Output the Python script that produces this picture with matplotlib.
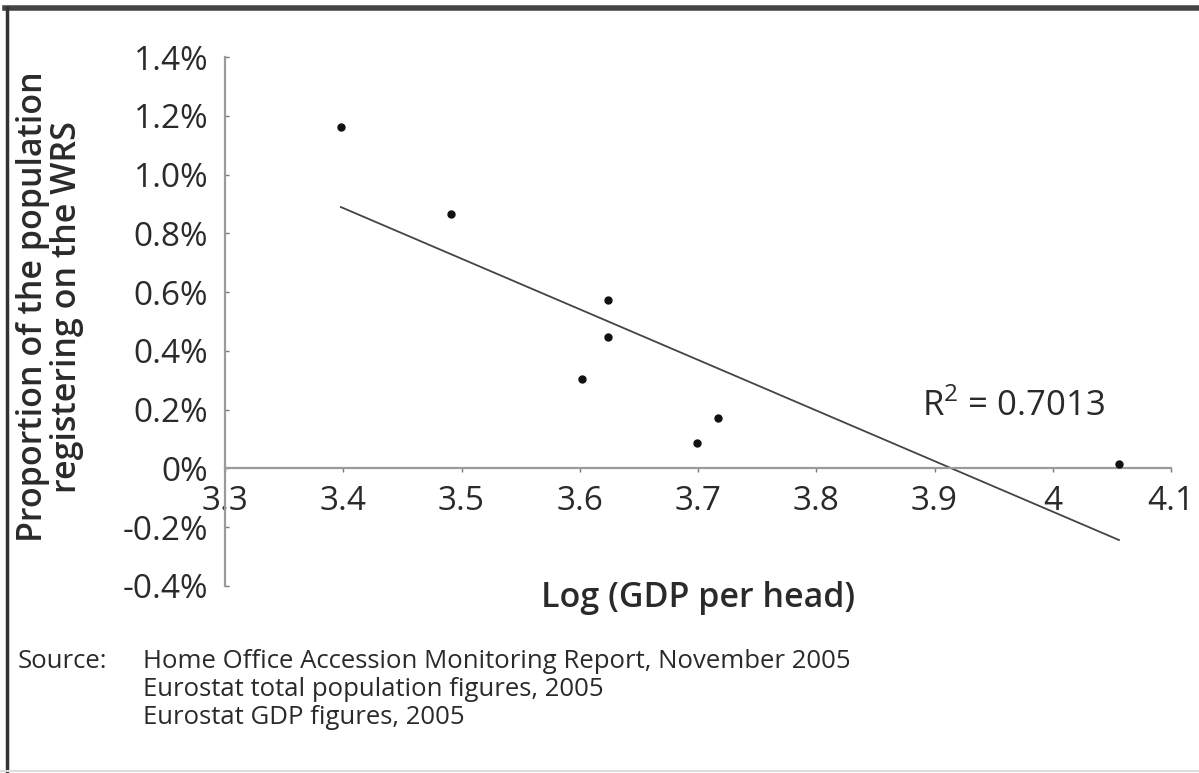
import matplotlib
matplotlib.use("Agg")
import matplotlib.pyplot as plt
import numpy as np
from matplotlib.lines import Line2D

# Data
log_gdp = [3.398, 3.491, 3.624, 3.624, 3.602, 3.717, 3.699, 4.056]
wrs_share = [1.162, 0.866, 0.572, 0.446, 0.306, 0.173, 0.085, 0.015]  # percent

x_ticks = [3.3, 3.4, 3.5, 3.6, 3.7, 3.8, 3.9, 4.0, 4.1]
x_tick_labels = ["3.3", "3.4", "3.5", "3.6", "3.7", "3.8", "3.9", "4", "4.1"]
y_ticks = [-0.4, -0.2, 0.0, 0.2, 0.4, 0.6, 0.8, 1.0, 1.2, 1.4]
y_tick_labels = ["-0.4%", "-0.2%", "0%", "0.2%", "0.4%", "0.6%", "0.8%", "1.0%", "1.2%", "1.4%"]
r2_text = "R$^{2}$ = 0.7013"
x_label = "Log (GDP per head)"
y_label = "Proportion of the population\nregistering on the WRS"
source_head = "Source:"
source_lines = ["Home Office Accession Monitoring Report, November 2005",
                "Eurostat total population figures, 2005",
                "Eurostat GDP figures, 2005"]

plt.rcParams['font.family'] = ['Open Sans', 'DejaVu Sans']
plt.rcParams['mathtext.fontset'] = 'custom'
plt.rcParams['mathtext.rm'] = 'Open Sans'

fig = plt.figure(figsize=(11.99, 7.73), dpi=100)
ax = fig.add_axes([225/1199, 1-586/773, (1171-225)/1199, (586-57)/773])

ax.set_xlim(3.3, 4.1)
ax.set_ylim(-0.4, 1.4)

# scatter points
ax.plot(log_gdp, wrs_share, linestyle='none', marker='o', ms=5, color='#111111', zorder=3)

# linear trend line
coef = np.polyfit(log_gdp, wrs_share, 1)
xs = np.array([min(log_gdp), max(log_gdp)])
ax.plot(xs, np.polyval(coef, xs), color='#444444', lw=1.3, zorder=2)

# spines
for s in ['top', 'right']:
    ax.spines[s].set_visible(False)
ax.spines['bottom'].set_position(('data', 0))
ax.spines['bottom'].set_color('#9a9a9a')
ax.spines['left'].set_color('#9a9a9a')
ax.spines['bottom'].set_linewidth(1.6)
ax.spines['left'].set_linewidth(1.6)

ax.set_xticks(x_ticks)
ax.set_xticklabels(x_tick_labels)
ax.set_yticks(y_ticks)
ax.set_yticklabels(y_tick_labels)
ax.tick_params(axis='x', direction='out', length=3, width=1, color='#777777',
               labelsize=24, pad=9, labelcolor='#2a2a2a')
ax.tick_params(axis='y', direction='in', length=3, width=1, color='#777777',
               labelsize=24, pad=12, labelcolor='#2a2a2a')
lbl0 = ax.get_xticklabels()[0]
lbl0.set_bbox(dict(facecolor='white', edgecolor='none', pad=1))

ax.text(3.3 + (922-225)/1182.5, 0.0 + (468-416)/294, r2_text, fontsize=25,
        color='#2a2a2a', ha='left', va='baseline')

fig.text(698/1199, 1-598/773, x_label, fontsize=24.5, fontweight='semibold',
         ha='center', va='center', color='#2a2a2a')
fig.text(50/1199, 1-307/773, y_label, fontsize=24.5, fontweight='semibold',
         ha='center', va='center', rotation=90, color='#2a2a2a', linespacing=1.0)

fig.text(18/1199, 1-662/773, source_head, fontsize=18.5, ha='left', va='center', color='#2a2a2a')
for i, line in enumerate(source_lines):
    fig.text(143/1199, 1-(662+27.5*i)/773, line, fontsize=18.5, ha='left', va='center',
             color='#2a2a2a')

# frame
fig.add_artist(Line2D([5/1199, 1], [1-7.5/773, 1-7.5/773], transform=fig.transFigure,
                      color='#444444', lw=4))
fig.add_artist(Line2D([6.5/1199, 6.5/1199], [1-7.5/773, 0], transform=fig.transFigure,
                      color='#333333', lw=2.5))
fig.add_artist(Line2D([0, 1], [1-771/773, 1-771/773], transform=fig.transFigure,
                      color='#dddddd', lw=1.5))

fig.savefig("out.png", dpi=100)
